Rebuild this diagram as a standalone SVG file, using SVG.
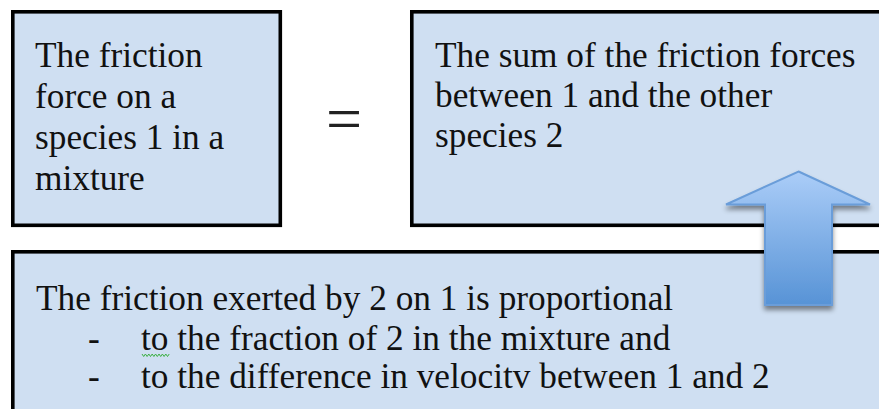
<svg xmlns="http://www.w3.org/2000/svg" width="879" height="409" viewBox="0 0 879 409">
<style>
.box{fill:#cfdff2;stroke:#000;stroke-width:3.6}
.t{font-family:"Liberation Serif","Times New Roman",serif;font-size:35.3px;fill:#111}
</style>
<defs>
<linearGradient id="ag" x1="0" y1="0" x2="0" y2="1">
<stop offset="0" stop-color="#abcdf8"/>
<stop offset="1" stop-color="#5793d6"/>
</linearGradient>
<filter id="sh" x="-30%" y="-20%" width="160%" height="150%">
<feDropShadow dx="0" dy="4" stdDeviation="2.5" flood-color="#000" flood-opacity="0.45"/>
</filter>
</defs>
<rect width="879" height="409" fill="#fff"/>
<g id="node-force">
<rect class="box" x="12.8" y="11.8" width="267.5" height="213.5"/>
<text class="t"><tspan x="35" y="67">The friction</tspan><tspan x="35" y="108">force on a</tspan><tspan x="35" y="149">species 1 in a</tspan><tspan x="35" y="190">mixture</tspan></text>
</g>
<g id="node-equals">
<text x="326" y="140" font-family="'Liberation Serif','Times New Roman',serif" font-size="64" fill="#222">=</text>
</g>
<g id="node-sum">
<rect class="box" x="411.8" y="11.8" width="480" height="213.5"/>
<text class="t"><tspan x="435" y="67">The sum of the friction forces</tspan><tspan x="435" y="107">between 1 and the other</tspan><tspan x="435" y="147">species 2</tspan></text>
</g>
<g id="node-proportional">
<rect class="box" x="12.8" y="251.8" width="880" height="180"/>
<text class="t"><tspan x="36" y="310">The friction exerted by 2 on 1 is proportional</tspan></text>
<text class="t"><tspan x="88" y="350">-</tspan><tspan x="141" y="350">to the fraction of 2 in the mixture and</tspan></text>
<text class="t"><tspan x="88" y="388">-</tspan><tspan x="141" y="388">to the difference in velocitv between 1 and 2</tspan></text>
<polyline points="142,354 143.7,356.5 145.4,354 147.1,356.5 148.8,354 150.5,356.5 152.2,354 153.9,356.5 155.6,354 157.3,356.5 159,354 160.7,356.5 162.4,354 164.1,356.5 165.8,354 167.5,356.5 169.2,354" fill="none" stroke="#3cb043" stroke-width="1"/>
</g>
<g id="connectors">
<path d="M798.5,171.5 L870,204.5 L832,204.5 L832,305 L765,305 L765,204.5 L726,204.5 Z" fill="url(#ag)" stroke="#6a9dd9" stroke-width="2" stroke-linejoin="miter" filter="url(#sh)"/>
</g>
</svg>
